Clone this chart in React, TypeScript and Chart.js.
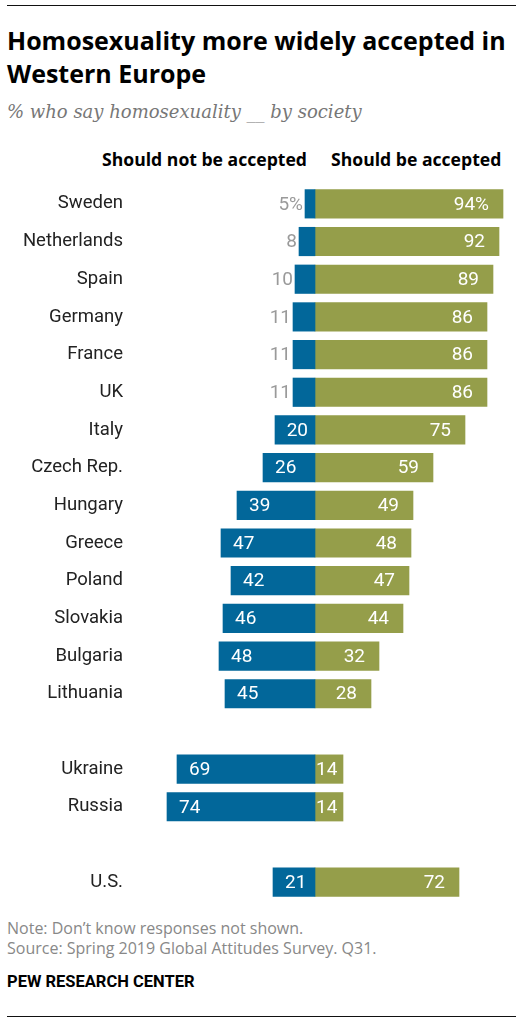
import { useEffect, useRef } from 'react';
import Chart from 'chart.js/auto';

// rows, blanks separate the country groups
const countries = [
  'Sweden', 'Netherlands', 'Spain', 'Germany', 'France', 'UK', 'Italy',
  'Czech Rep.', 'Hungary', 'Greece', 'Poland', 'Slovakia', 'Bulgaria', 'Lithuania',
  '', 'Ukraine', 'Russia', '', 'U.S.',
];
const notAccepted = [5, 8, 10, 11, 11, 11, 20, 26, 39, 47, 42, 46, 48, 45, null, 69, 74, null, 21];
const accepted = [94, 92, 89, 86, 86, 86, 75, 59, 49, 48, 47, 44, 32, 28, null, 14, 14, null, 72];

const BLUE = '#02679a';
const GREEN = '#959e4a';
const FONT = 'Roboto, "Liberation Sans", sans-serif';
const WIDE = '"Open Sans", Roboto, sans-serif';

const valueLabels = {
  id: 'valueLabels',
  afterDatasetsDraw(chart: any) {
    const ctx = chart.ctx;
    const zero = chart.scales.x.getPixelForValue(0);
    ctx.save();
    ctx.font = '19px ' + FONT;
    ctx.textBaseline = 'middle';
    ctx.textAlign = 'left';

    chart.getDatasetMeta(0).data.forEach((bar: any, i: number) => {
      const v = notAccepted[i];
      if (v == null) return;
      const text = i === 0 ? v + '%' : String(v);
      const w = ctx.measureText(text).width;
      if (v < 15) {
        ctx.fillStyle = '#9a9a9a';
        ctx.fillText(text, bar.x - 2 - w, bar.y + 1);
      } else {
        ctx.fillStyle = '#fff';
        const left = Math.min(bar.x + 12, zero - 7 - w);
        ctx.fillText(text, left, bar.y + 1);
      }
    });

    chart.getDatasetMeta(1).data.forEach((bar: any, i: number) => {
      const v = accepted[i];
      if (v == null) return;
      const text = i === 0 ? v + '%' : String(v);
      const w = ctx.measureText(text).width;
      ctx.fillStyle = '#fff';
      const right = Math.max(bar.x - 14, zero + 1 + w);
      ctx.fillText(text, right - w, bar.y + 1);
    });
    ctx.restore();
  },
};

export default function App() {
  const chartRef = useRef<HTMLCanvasElement>(null);
  const chartInstance = useRef<Chart | null>(null);

  useEffect(() => {
    document.body.style.margin = '0';
    if (!chartRef.current) return;
    if (chartInstance.current) chartInstance.current.destroy();
    const ctx = chartRef.current.getContext('2d');
    if (!ctx) return;

    chartInstance.current = new Chart(ctx, {
      type: 'bar',
      data: {
        labels: countries,
        datasets: [
          {
            label: 'Should not be accepted',
            data: notAccepted.map((v) => (v == null ? null : -v)),
            backgroundColor: BLUE,
            barThickness: 28.5,
          },
          {
            label: 'Should be accepted',
            data: accepted,
            backgroundColor: GREEN,
            barThickness: 28.5,
          },
        ],
      },
      options: {
        indexAxis: 'y',
        responsive: false,
        maintainAspectRatio: false,
        animation: false,
        layout: { padding: { top: 5, bottom: 5, left: 0, right: 13 } },
        plugins: {
          legend: { display: false },
          tooltip: { enabled: false },
        },
        scales: {
          x: {
            display: false,
            stacked: true,
            min: -82.5,
            max: 100,
          },
          y: {
            stacked: true,
            grid: { display: false, drawTicks: false },
            border: { display: false },
            ticks: {
              padding: 27,
              color: '#222',
              font: { family: FONT, size: 18.5 },
            },
            afterFit: (scale: any) => {
              // fixed label column, and no extra vertical padding from the tick padding
              scale.width = 150;
              scale.paddingTop = 0;
              scale.paddingBottom = 0;
            },
          },
        },
      },
      plugins: [valueLabels],
    });

    return () => {
      if (chartInstance.current) {
        chartInstance.current.destroy();
        chartInstance.current = null;
      }
    };
  }, []);

  const abs = (top: number, extra: any = {}) => ({ position: 'absolute' as const, top, ...extra });

  return (
    <div style={{ position: 'relative', width: 528, height: 1023, fontFamily: FONT, background: '#fff' }}>
      <div style={abs(5, { left: 7, width: 509, height: 0, borderTop: '1.5px solid #111' })} />
      <div
        style={abs(24, {
          left: 7,
          width: 520,
          fontFamily: WIDE,
          fontSize: 25,
          lineHeight: '33px',
          fontWeight: 700,
          color: '#000',
          whiteSpace: 'nowrap',
        })}
      >
        Homosexuality more widely accepted in
        <br />
        Western Europe
      </div>
      <div
        style={abs(101, {
          left: 7,
          fontFamily: '"DejaVu Serif", serif',
          fontStyle: 'italic',
          fontSize: 18,
          lineHeight: '22px',
          color: '#777',
          whiteSpace: 'nowrap',
        })}
      >
        % who say homosexuality __ by society
      </div>
      <div
        style={abs(148, {
          right: 528 - 307,
          fontFamily: WIDE,
          fontSize: 17.6,
          lineHeight: '22px',
          fontWeight: 700,
          whiteSpace: 'nowrap',
        })}
      >
        Should not be accepted
      </div>
      <div
        style={abs(148, {
          left: 331,
          fontFamily: WIDE,
          fontSize: 17.6,
          lineHeight: '22px',
          fontWeight: 700,
          whiteSpace: 'nowrap',
        })}
      >
        Should be accepted
      </div>
      <canvas
        ref={chartRef}
        width={528}
        height={726}
        style={{ position: 'absolute', top: 180, left: 0, width: 528, height: 726 }}
      />
      <div style={abs(919, { left: 7, fontFamily: WIDE, fontSize: 16, lineHeight: '19.5px', color: '#888', whiteSpace: 'nowrap' })}>
        Note: Don’t know responses not shown.
        <br />
        Source: Spring 2019 Global Attitudes Survey. Q31.
      </div>
      <div style={abs(973, { left: 7, fontSize: 16.5, lineHeight: '18px', fontWeight: 700, color: '#000' })}>
        PEW RESEARCH CENTER
      </div>
      <div style={abs(1016, { left: 7, width: 509, height: 0, borderTop: '1.5px solid #111' })} />
    </div>
  );
}
